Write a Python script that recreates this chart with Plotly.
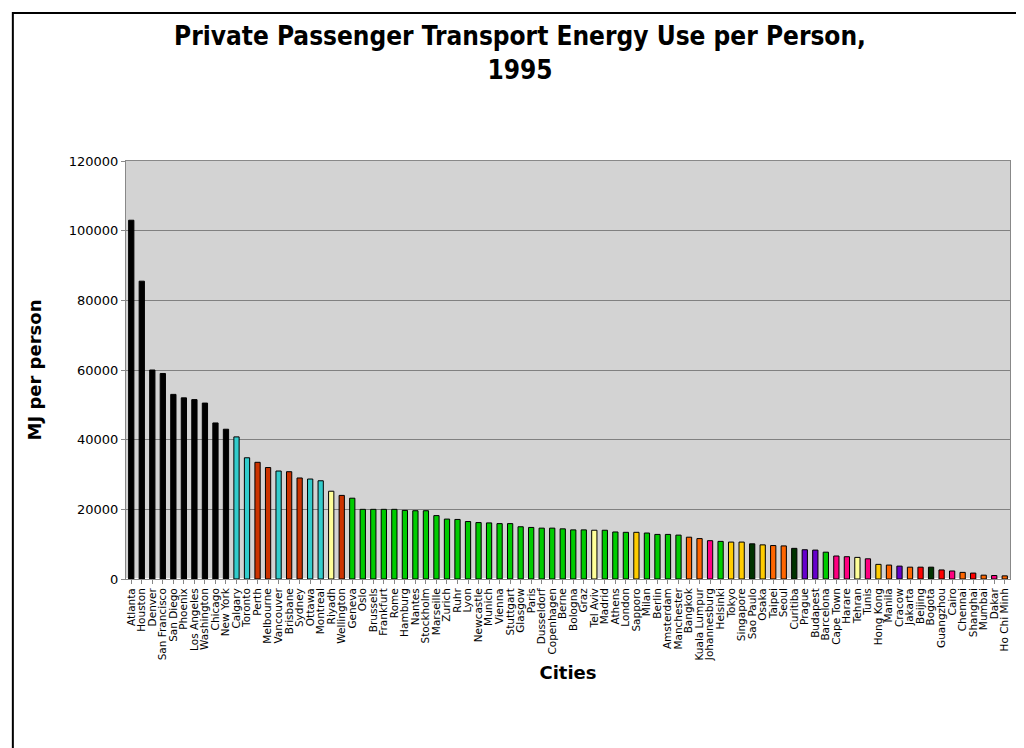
import plotly.graph_objects as go

# cities in chart order, MJ per person
cities = ["Atlanta", "Houston", "Denver", "San Francisco", "San Diego", "Phoenix",
          "Los Angeles", "Washington", "Chicago", "New York", "Calgary", "Toronto",
          "Perth", "Melbourne", "Vancouver", "Brisbane", "Sydney", "Ottawa", "Montreal",
          "Riyadh", "Wellington", "Geneva", "Oslo", "Brussels", "Frankfurt", "Rome",
          "Hamburg", "Nantes", "Stockholm", "Marseille", "Zurich", "Ruhr", "Lyon",
          "Newcastle", "Munich", "Vienna", "Stuttgart", "Glasgow", "Paris", "Dusseldorf",
          "Copenhagen", "Berne", "Bologna", "Graz", "Tel Aviv", "Madrid", "Athens",
          "London", "Sapporo", "Milan", "Berlin", "Amsterdam", "Manchester", "Bangkok",
          "Kuala Lumpur", "Johannesburg", "Helsinki", "Tokyo", "Singapore", "Sao Paulo",
          "Osaka", "Taipei", "Seoul", "Curitiba", "Prague", "Budapest", "Barcelona",
          "Cape Town", "Harare", "Tehran", "Tunis", "Hong Kong", "Manila", "Cracow",
          "Jakarta", "Beijing", "Bogota", "Guangzhou", "Cairo", "Chennai", "Shanghai",
          "Mumbai", "Dakar", "Ho Chi Minh"]

energy = [103000, 85500, 60000, 59000, 53000, 52000, 51500, 50500, 44800, 43000,
          40800, 34800, 33500, 32000, 31000, 30800, 29000, 28700, 28200, 25200,
          24000, 23200, 20000, 20000, 20000, 20000, 19700, 19600, 19600, 18200,
          17200, 17100, 16500, 16200, 16100, 15900, 15900, 15000, 14800, 14600,
          14600, 14400, 14100, 14100, 14000, 14000, 13500, 13400, 13400, 13200,
          12800, 12800, 12600, 12000, 11600, 11000, 10800, 10600, 10600, 10100,
          9800, 9600, 9500, 8800, 8400, 8300, 7700, 6600, 6400, 6200,
          5800, 4200, 4000, 3700, 3400, 3400, 3400, 2600, 2300, 1900,
          1700, 1100, 1000, 900]

# region per city
region = (["us"] * 10 + ["can", "can", "aus", "aus", "can", "aus", "aus", "can", "can",
          "me", "aus"] + ["eu"] * 23 + ["me", "eu", "eu", "eu", "asiah", "eu", "eu", "eu",
          "eu", "asiad", "asiad", "afr", "eu", "asiah", "asiah", "lat", "asiah", "asiad",
          "asiad", "lat", "ee", "ee", "eu", "afr", "afr", "me", "afr", "asiah", "asiad",
          "ee", "asiad", "china", "lat", "china", "afr", "asiad", "china", "asiad", "afr",
          "asiad"])

region_colors = {"us": "#000000", "can": "#33CCCC", "aus": "#CC3300", "me": "#FFFF99",
                 "eu": "#00CC00", "asiah": "#FFCC00", "asiad": "#FF6600", "afr": "#FF0080",
                 "lat": "#003300", "ee": "#6600CC", "china": "#FF0000"}
colors = [region_colors[r] for r in region]

fig = go.Figure()
fig.add_trace(go.Bar(
    x=cities, y=energy,
    marker=dict(color=colors, line=dict(color="black", width=1)),
    width=0.5,
))

fig.update_layout(
    width=1024, height=748,
    title=dict(text="<b>Private Passenger Transport Energy Use per Person,<br>1995</b>",
               x=0.5, y=0.95, font=dict(family="DejaVu Sans Condensed, DejaVu Sans", size=26,
                                        color="black")),
    font=dict(family="DejaVu Sans", color="black"),
    plot_bgcolor="#D3D3D3", paper_bgcolor="white",
    margin=dict(l=118, r=22, t=153, b=177),
    showlegend=False,
    xaxis=dict(title=dict(text="<b>Cities</b>", font=dict(size=18), standoff=6),
               tickangle=-90, tickmode="linear", dtick=1,
               tickfont=dict(size=10.5, family="DejaVu Sans"), showline=True,
               linecolor="#888", mirror=True, ticks="outside", ticklen=4, tickcolor="#888"),
    yaxis=dict(title=dict(text="<b>MJ per person</b>", font=dict(size=18), standoff=22),
               range=[0, 120000], dtick=20000, tickformat="d", tickfont=dict(size=13),
               gridcolor="#808080", showline=True, linecolor="#888", mirror=True,
               ticks="outside", ticklen=4, tickcolor="#888"),
    shapes=[dict(type="rect", xref="paper", yref="paper", x0=-0.128, x1=1.019,
                 y0=-0.411, y1=1.354, line=dict(color="black", width=2))],
)

fig.write_html("out.html")
